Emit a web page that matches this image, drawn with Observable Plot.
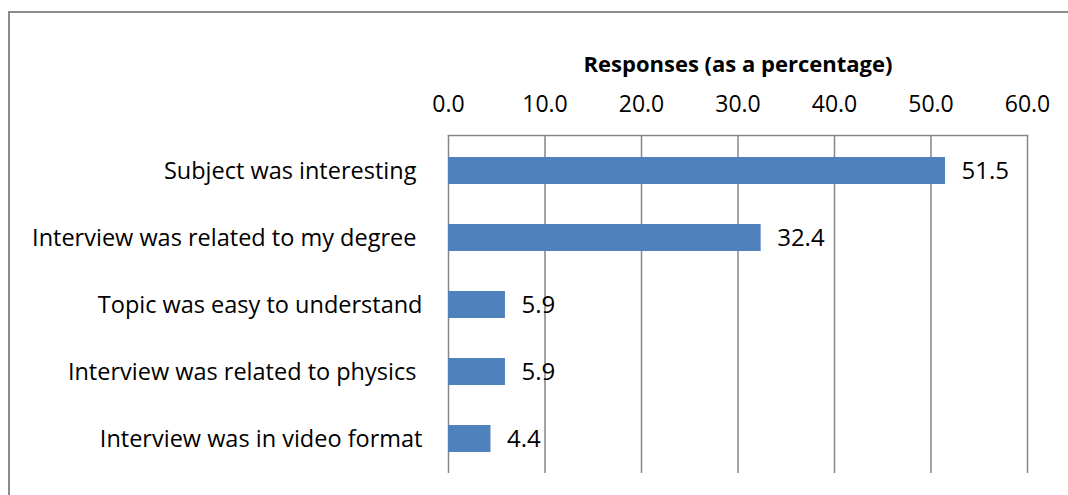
<!DOCTYPE html>
<html><head><meta charset="utf-8">
<script src="https://cdn.jsdelivr.net/npm/d3@7"></script>
<script src="https://cdn.jsdelivr.net/npm/@observablehq/plot@0.6"></script>
<style>
html,body{margin:0;padding:0;background:#fff;}
#wrap{position:relative;width:1068px;height:495px;overflow:hidden;}
#border{position:absolute;left:8px;top:11px;width:2000px;height:2000px;border-top:2px solid #8c8c8c;border-left:2px solid #8c8c8c;}
#chart{position:absolute;left:0;top:0;}
svg text{white-space:pre;}
</style></head><body>
<div id="wrap"><div id="border"></div><div id="chart"></div></div>
<script>
const categories = ["Subject was interesting ", "Interview was related to my degree ", "Topic was easy to understand", "Interview was related to physics ", "Interview was in video format"];
const values = [51.5, 32.4, 5.9, 5.9, 4.4];
const xTicks = [0, 10, 20, 30, 40, 50, 60];
const xTitle = "Responses (as a percentage)";

const data = categories.map((c, i) => ({category: c, value: values[i]}));
const fmt = d3.format(".1f");
const font = "'Open Sans', sans-serif";

const chart = Plot.plot({
  width: 1068, height: 495,
  marginLeft: 448, marginRight: 41, marginTop: 135, marginBottom: 22,
  style: {fontFamily: font, fontSize: "23px", color: "#000", background: "transparent", overflow: "visible"},
  x: {domain: [0, 60]},
  y: {domain: categories, paddingInner: 0.6, paddingOuter: 0.3},
  marks: [
    Plot.gridX(xTicks, {stroke: "#868686", strokeOpacity: 1, strokeWidth: 1.5}),
    Plot.frame({anchor: "top", stroke: "#868686", strokeWidth: 1.5}),
    Plot.barX(data, {x: "value", y: "category", fill: "#4f81bd"}),
    Plot.text(data, {x: "value", y: "category", text: d => fmt(d.value), textAnchor: "start", dx: 16, fill: "#000", fontSize: 24}),
    Plot.axisX({anchor: "top", ticks: xTicks, tickFormat: fmt, tickSize: 0, tickPadding: 24, label: null, fontSize: 23}),
    Plot.axisY({tickSize: 0, tickPadding: 26, label: null, fontSize: 23.5}),
    Plot.text([xTitle], {frameAnchor: "top", lineAnchor: "bottom", dy: -64, fontWeight: "bold", fontSize: 22, fill: "#000"})
  ]
});
document.getElementById("chart").appendChild(chart);
</script>
</body></html>
